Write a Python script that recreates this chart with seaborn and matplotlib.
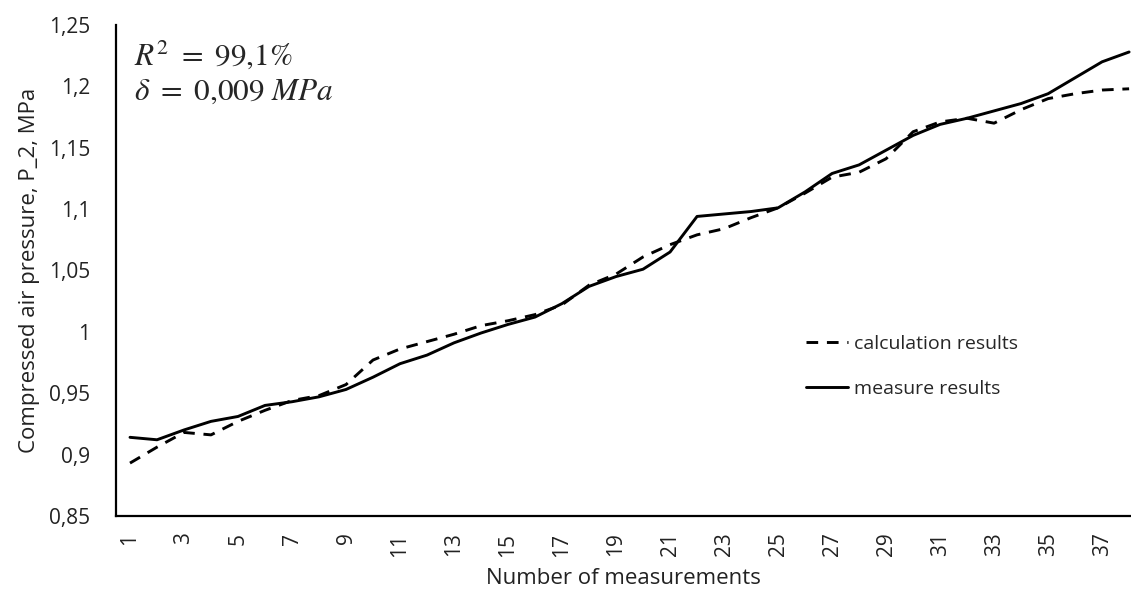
import numpy as np
import pandas as pd
import seaborn as sns
import matplotlib.pyplot as plt
from matplotlib.ticker import FuncFormatter, FixedLocator

# ── data ──────────────────────────────────────────────────────────────────
measurement_no = list(range(1, 39))

calculation = [0.893, 0.906, 0.918, 0.916, 0.927, 0.936, 0.944, 0.948, 0.957, 0.977,
               0.986, 0.992, 0.998, 1.005, 1.009, 1.014, 1.022, 1.038, 1.047, 1.061,
               1.071, 1.079, 1.084, 1.093, 1.101, 1.113, 1.126, 1.130, 1.141, 1.163,
               1.171, 1.174, 1.170, 1.181, 1.190, 1.194, 1.197, 1.198]

measure = [0.914, 0.912, 0.920, 0.927, 0.931, 0.940, 0.943, 0.947, 0.953, 0.963,
           0.974, 0.981, 0.991, 0.999, 1.006, 1.012, 1.023, 1.037, 1.045, 1.051,
           1.065, 1.094, 1.096, 1.098, 1.101, 1.114, 1.129, 1.136, 1.148, 1.160,
           1.169, 1.174, 1.180, 1.186, 1.194, 1.207, 1.220, 1.228]

series_names = ["calculation results", "measure results"]
x_tick_labels = [str(i) for i in range(1, 39, 2)]
y_ticks = [0.85, 0.9, 0.95, 1.0, 1.05, 1.1, 1.15, 1.2, 1.25]

df = pd.DataFrame({
    "n": measurement_no * 2,
    "pressure": calculation + measure,
    "series": [series_names[0]] * 38 + [series_names[1]] * 38,
})

# ── style ────────────────────────────────────────────────────────────────
sns.set_style("white")
plt.rcParams["font.family"] = ["Open Sans", "DejaVu Sans"]
plt.rcParams["mathtext.fontset"] = "stix"

fig = plt.figure(figsize=(11.31, 5.95), dpi=100)
ax = fig.add_axes([0.103, 0.133, 0.897, 0.825])

sns.lineplot(
    data=df, x="n", y="pressure",
    hue="series", style="series",
    hue_order=series_names, style_order=series_names,
    palette={series_names[0]: "black", series_names[1]: "black"},
    dashes={series_names[0]: (4, 3), series_names[1]: ""},
    linewidth=2.1, ax=ax,
)

# ── axes ────────────────────────────────────────────────────────────────
ax.set_xlim(0.5, 38.07)
ax.set_ylim(0.85, 1.25)
ax.xaxis.set_major_locator(FixedLocator(list(range(1, 39, 2))))
ax.set_xticklabels(x_tick_labels, rotation=90)
ax.set_yticks(y_ticks)
ax.yaxis.set_major_formatter(FuncFormatter(
    lambda v, p: f"{v:.2f}".rstrip("0").rstrip(".").replace(".", ",")))
ax.tick_params(axis="both", length=0, labelsize=15, colors="#222222")
ax.tick_params(axis="x", pad=12)
ax.tick_params(axis="y", pad=19)

for side in ["top", "right"]:
    ax.spines[side].set_visible(False)
for side in ["left", "bottom"]:
    ax.spines[side].set_color("black")
    ax.spines[side].set_linewidth(1.6)

ax.set_xlabel("Number of measurements", fontsize=16, color="#222222", labelpad=8)
ax.set_ylabel("Compressed air pressure, P_2, MPa", fontsize=16, color="#222222", labelpad=6)

# ── annotation ──────────────────────────────────────────────────────────
ax.text(0.017, 0.972, r"$R^2\ =\ 99{,}1\%$" + "\n" + r"$\delta\ =\ 0{,}009\ MPa$",
        transform=ax.transAxes, fontsize=22.5, va="top", ha="left", linespacing=1.25)

# ── legend ──────────────────────────────────────────────────────────────
handles, labels = ax.get_legend_handles_labels()
ax.legend(handles, labels, frameon=False, loc="upper left",
          bbox_to_anchor=(0.662, 0.405), fontsize=14,
          handlelength=2.2, handletextpad=0.3, labelspacing=1.4)

fig.savefig("out.png", dpi=100)
